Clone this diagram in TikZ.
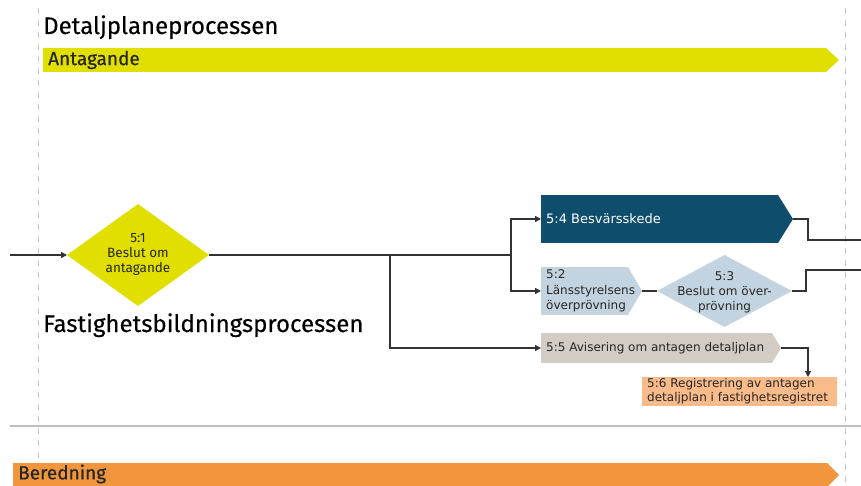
\documentclass[tikz,border=0pt]{standalone}
\usepackage{fontspec}
\setmainfont{Fira Sans}
\newfontfamily\boxfont{DejaVu Sans}
\newfontfamily\semifont[FakeBold=0.6]{Fira Sans}
\newfontfamily\headfont[FakeBold=0.3]{Fira Sans}
\usetikzlibrary{arrows.meta,shapes.geometric,calc}
\definecolor{ylw}{RGB}{225,223,0}
\definecolor{tealbox}{RGB}{14,77,108}
\definecolor{lblue}{RGB}{195,212,224}
\definecolor{beige}{RGB}{211,204,196}
\definecolor{peach}{RGB}{249,187,137}
\definecolor{orng}{RGB}{241,150,60}
\definecolor{lineclr}{RGB}{51,51,51}
\definecolor{guide}{RGB}{200,200,200}
\definecolor{sep}{RGB}{190,190,190}
\tikzset{
  conn/.style={draw=lineclr, line width=1.3pt},
  arr/.style={conn, -{Triangle[length=6pt,width=6pt]}},
  guideline/.style={draw=guide, line width=1pt, dash pattern=on 6pt off 6pt},
  heading/.style={anchor=base west, inner sep=0pt, font=\headfont\fontsize{24}{28}\selectfont, text=black},
  barlabel/.style={anchor=west, inner sep=0pt, font=\semifont\fontsize{19}{22}\selectfont, text=black!85},
  body/.style={anchor=north west, inner sep=0pt, outer sep=0pt},
  boxtext/.style={anchor=west, inner sep=0pt, align=left, font=\boxfont\fontsize{12}{15}\selectfont},
  diatext/.style={inner sep=0pt, align=center},
  dia/.style={diamond, inner sep=0pt, outer sep=0pt, draw=none},
}
\begin{document}
\begin{tikzpicture}[x=1pt,y=-1pt]
\useasboundingbox (0,0) rectangle (861,486);
% guide lines
\draw[guideline] (38,8) -- (38,486);
\draw[guideline] (845,8) -- (845,486);
\draw[sep, line width=1.4pt] (10,426) -- (861,426);

% headings
\node[heading] (title) at (43,34) {Detaljplaneprocessen};
\node[heading] (fastig) at (43,332) {Fastighetsbildningsprocessen};

% Antagande bar
\fill[ylw] (43,48) -- (826,48) -- (839,60) -- (826,72) -- (43,72) -- cycle;
\node[barlabel] (antag) at (48,60) {Antagande};

% Beredning bar
\fill[orng] (13,463) -- (827,463) -- (839,475) -- (827,487) -- (13,487) -- cycle;
\node[barlabel] (bered) at (18,474) {Beredning};

% 5:1 diamond
\node[dia, fill=ylw, minimum width=142pt, minimum height=102pt] (d51) at (138,255) {};
\node[diatext, font=\fontsize{13.5}{15}\selectfont, text=black!85] (t51) at (138,254) {5:1\\Beslut om\\antagande};

% 5:4 box
\node[body, fill=tealbox, minimum width=237pt, minimum height=48pt] (b54) at (541,195) {};
\fill[tealbox] (b54.north east) -- ($(b54.east)+(15,0)$) coordinate (tip54) -- (b54.south east) -- cycle;
\node[boxtext, text=white, font=\boxfont\fontsize{13}{15}\selectfont] (t54) at ($(b54.west)+(5,0)$) {5:4 Besvärsskede};

% 5:2 box
\node[body, fill=lblue, minimum width=87pt, minimum height=48pt] (b52) at (541,267) {};
\fill[lblue] (b52.north east) -- ($(b52.east)+(14,0)$) coordinate (tip52) -- (b52.south east) -- cycle;
\node[boxtext, text=black!85, font=\boxfont\fontsize{12}{15.5}\selectfont] (t52) at ($(b52.west)+(5,0)$) {5:2\\Länsstyrelsens\\överprövning};

% 5:3 diamond
\node[dia, fill=lblue, minimum width=135pt, minimum height=72pt] (d53) at (724.5,291) {};
\node[diatext, font=\boxfont\fontsize{12}{15}\selectfont, text=black!85] (t53) at (724.5,292) {5:3\\Beslut om över-\\prövning};

% 5:5 box
\node[body, fill=beige, minimum width=231pt, minimum height=30pt] (b55) at (541,333) {};
\fill[beige] (b55.north east) -- ($(b55.east)+(9,0)$) coordinate (tip55) -- (b55.south east) -- cycle;
\node[boxtext, text=black!85] (t55) at ($(b55.west)+(5,0)$) {5:5 Avisering om antagen detaljplan};

% 5:6 box
\node[body, fill=peach, minimum width=195pt, minimum height=29pt] (b56) at (642,377) {};
\node[boxtext, text=black!85, font=\boxfont\fontsize{12}{14}\selectfont] (t56) at ($(b56.west)+(5,0)$) {5:6 Registrering av antagen\\detaljplan i fastighetsregistret};

% connector points
\coordinate (in) at (10,255);
\coordinate (j0) at (390,255);
\coordinate (j1) at (511,255);
\coordinate (k54) at (808,219);
\coordinate (out54) at (861,240);
\coordinate (k53) at (806,291);
\coordinate (out53) at (861,270);
\coordinate (k55) at (808,348);

% connectors
\draw[arr] (in) -- (d51.west);
\draw[conn] (d51.east) -- (j1);
\draw[arr] (j1) |- (b54.west);
\draw[arr] (j1) |- (b52.west);
\draw[arr] (j0) |- (b55.west);
\draw[conn] (tip54) -- (k54) |- (out54);
\draw[conn] (tip52) -- (d53.west);
\draw[conn] (d53.east) -- (k53) |- (out53);
\draw[arr] (tip55) -- (k55) -- (k55 |- b56.north);
\end{tikzpicture}
\end{document}
